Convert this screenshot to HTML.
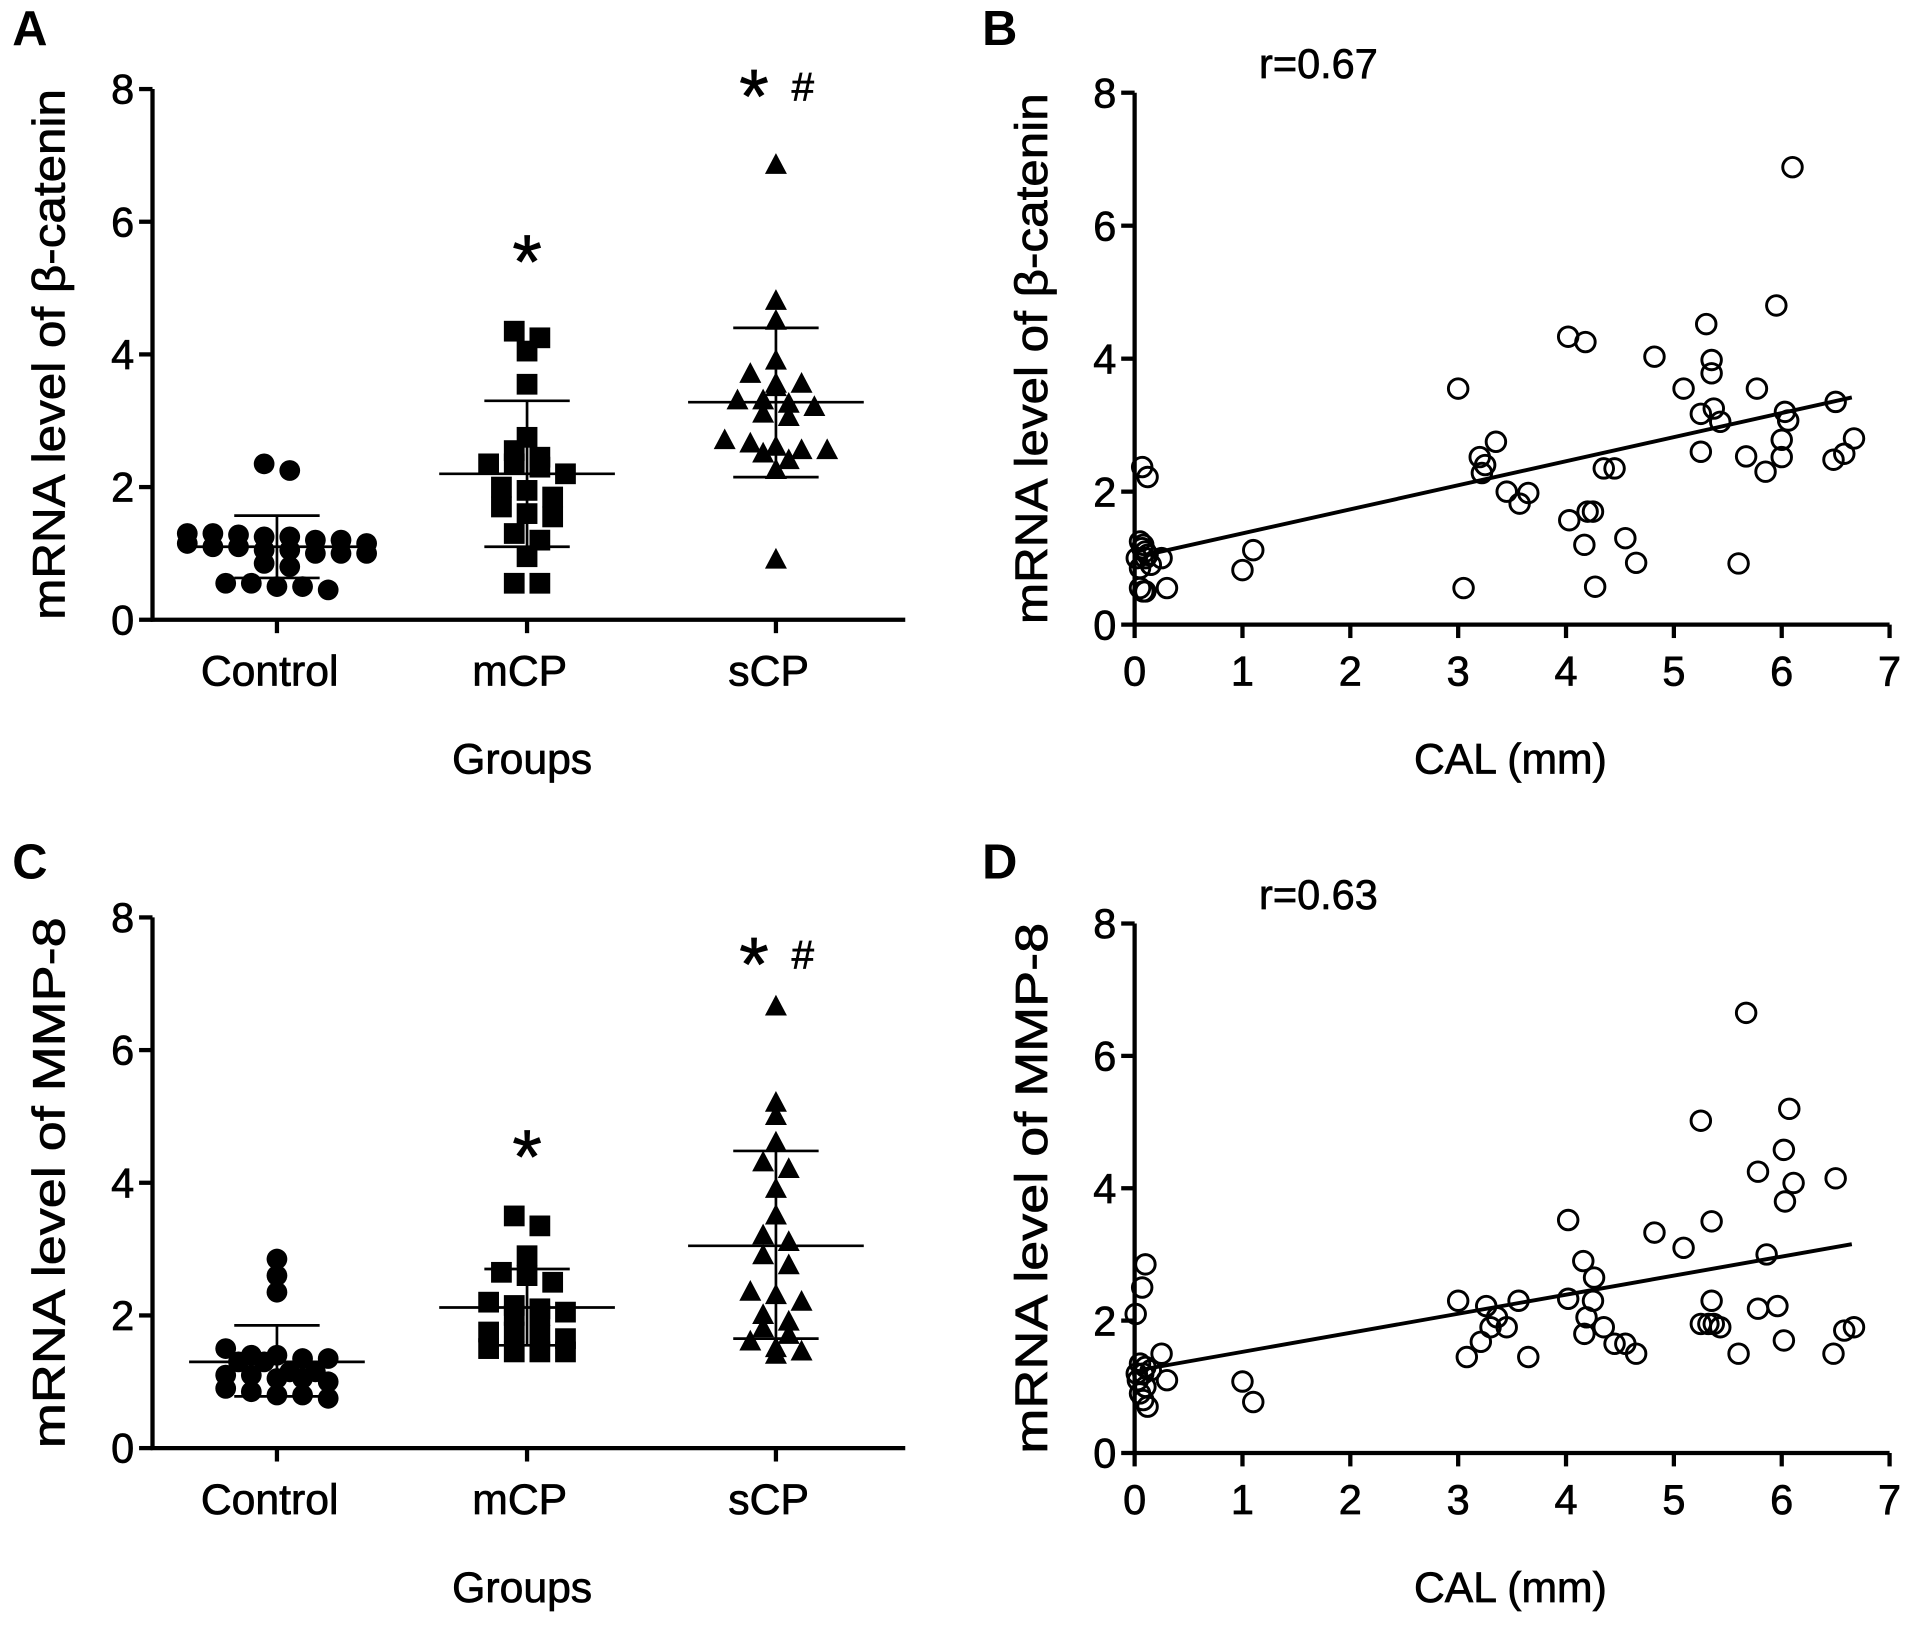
<!DOCTYPE html>
<html><head><meta charset="utf-8">
<style>
html,body{margin:0;padding:0;background:#fff;}
svg{display:block;font-family:"Liberation Sans",Arial,sans-serif;}
</style></head>
<body>
<svg id="fig" width="1913" height="1625" viewBox="0 0 1568 1332" preserveAspectRatio="none" xmlns="http://www.w3.org/2000/svg"></svg>
<script>
// ---- Data ----
const groupCategories = ["Control", "mCP", "sCP"];
const yTicks = [0, 2, 4, 6, 8];
const xTicksCAL = [0, 1, 2, 3, 4, 5, 6, 7];

const aControl = [2.25, 2.35, 1.3, 1.28, 1.25, 1.2, 1.15, 1.1, 1.05, 1.0, 1.0, 1.0, 1.05, 1.1, 1.15, 1.2, 1.25, 1.3, 0.8, 0.85, 0.55, 0.5, 0.45, 0.5, 0.55];
const aMCP = [4.35, 4.25, 4.05, 3.55, 2.75, 2.55, 2.45, 2.35, 2.3, 2.35, 2.2, 2.0, 1.95, 1.85, 1.7, 1.6, 1.55, 1.3, 1.2, 0.95, 0.55, 0.55];
const aSCP = [6.85, 4.8, 4.5, 3.9, 3.7, 3.55, 3.55, 3.5, 3.3, 3.3, 3.25, 3.2, 3.1, 3.05, 2.7, 2.65, 2.6, 2.55, 2.55, 2.5, 2.4, 2.25, 0.9];
const aMeans = [1.1, 2.2, 3.28];
const aSdHigh = [1.57, 3.3, 4.4];
const aSdLow = [0.63, 1.1, 2.15];
const aMarks = ["", "*", "* #"];
const aMarkLevel = [0, 5.55, 8.05];

const cControl = [2.85, 2.6, 2.35, 1.5, 1.4, 1.35, 1.3, 1.3, 1.35, 1.4, 1.15, 1.1, 1.05, 1.0, 1.05, 1.1, 1.15, 0.9, 0.85, 0.8, 0.75, 0.8];
const cMCP = [3.5, 3.35, 2.9, 2.65, 2.6, 2.5, 2.2, 2.15, 2.1, 2.05, 2.0, 2.0, 1.75, 1.75, 1.7, 1.65, 1.5, 1.45, 1.45, 1.45];
const cSCP = [6.65, 5.2, 5.0, 4.6, 4.3, 4.2, 3.9, 3.5, 3.2, 3.1, 2.9, 2.75, 2.35, 2.3, 2.2, 2.0, 1.9, 1.8, 1.7, 1.6, 1.5, 1.45, 1.4];
const cMeans = [1.3, 2.12, 3.05];
const cSdHigh = [1.85, 2.7, 4.48];
const cSdLow = [0.78, 1.55, 1.65];
const cMarks = ["", "*", "* #"];
const cMarkLevel = [0, 4.55, 7.45];

const bCAL = [0.07,0.12,0.05,0.08,0.1,0.02,0.1,0.15,0.05,0.25,0.05,0.08,0.1,0.3,0.12,0.07,1.0,1.1,3.0,3.05,3.2,3.25,3.22,3.35,3.45,3.57,3.65,4.02,4.18,4.03,4.2,4.25,4.17,4.27,4.35,4.45,4.55,4.65,4.82,5.09,5.25,5.25,5.3,5.35,5.35,5.37,5.43,5.6,5.67,5.77,5.85,5.95,6.1,6.0,6.0,6.03,6.06,6.48,6.5,6.58,6.67];
const bLevel = [2.37,2.22,1.25,1.2,1.1,1.0,1.0,0.9,0.85,1.0,0.55,0.5,0.5,0.55,1.05,1.15,0.82,1.12,3.55,0.55,2.52,2.4,2.28,2.75,2.0,1.82,1.98,4.33,4.25,1.57,1.7,1.7,1.2,0.57,2.35,2.35,1.3,0.93,4.03,3.55,3.17,2.6,4.52,3.98,3.78,3.25,3.05,0.92,2.53,3.55,2.3,4.8,6.88,2.52,2.78,3.2,3.07,2.48,3.35,2.57,2.8];
const bFit = [1.01, 0.362]; // intercept, slope
const bFitRange = [0.1, 6.65];

const dCAL = [0.01,0.1,0.07,0.05,0.1,0.08,0.15,0.03,0.1,0.05,0.08,0.12,0.25,0.3,0.02,1.0,1.1,3.0,3.08,3.21,3.26,3.3,3.36,3.45,3.56,3.65,4.02,4.02,4.16,4.26,4.19,4.25,4.17,4.35,4.45,4.55,4.65,4.82,5.09,5.25,5.25,5.32,5.35,5.35,5.37,5.43,5.6,5.67,5.78,5.78,5.86,5.96,6.02,6.07,6.03,6.11,6.02,6.48,6.5,6.58,6.67];
const dLevel = [2.1,2.85,2.5,1.35,1.3,1.2,1.25,1.1,1.0,0.9,0.8,0.7,1.5,1.1,1.2,1.08,0.77,2.3,1.45,1.68,2.22,1.9,2.05,1.9,2.3,1.45,3.52,2.33,2.9,2.65,2.05,2.3,1.8,1.9,1.65,1.65,1.5,3.33,3.1,5.02,1.95,1.95,3.5,2.3,1.95,1.9,1.5,6.65,4.25,2.18,3.0,2.22,4.58,5.2,3.8,4.08,1.7,1.5,4.15,1.85,1.9];
const dFit = [1.24, 0.288];
const dFitRange = [0.05, 6.65];

// ---- Drawing ----
const NS = "http://www.w3.org/2000/svg";
const svg = document.getElementById("fig");
function mk(tag, attrs, parent) {
  const e = document.createElementNS(NS, tag);
  for (const k in attrs) e.setAttribute(k, attrs[k]);
  (parent || svg).appendChild(e);
  return e;
}
function txt(s, attrs, parent) { const t = mk("text", attrs, parent); t.textContent = s; return t; }
const TXT = {"stroke": "#000", "stroke-width": 0.6};

function yAxis(g, x0, y0, y8, title, name) {
  const ys = v => y0 - (y0 - y8) * v / 8;
  const ax = mk("line", {x1: x0, y1: y8, x2: x0, y2: y0 + 1.5, stroke: "#000", "stroke-width": 3.5}, g);
  
  
  yTicks.forEach(v => {
    const tk = mk("line", {x1: x0 - 11, y1: ys(v), x2: x0, y2: ys(v), stroke: "#000", "stroke-width": 3.5}, g);
    
    
    const tl = txt(String(v), Object.assign({x: x0 - 15, y: ys(v) + 12, "text-anchor": "end", "font-size": 34}, TXT), g);
    
    
  });
  const cy = (y0 + y8) / 2;
  const tt = txt(title, Object.assign({x: 0, y: 0, "text-anchor": "middle", "font-size": 37, textLength: 435, lengthAdjust: "spacingAndGlyphs", transform: `translate(${x0 - 72},${cy}) rotate(-90)`}, TXT), g);
  
  
  return ys;
}

function panelLetter(l, x, y) {
  const t = txt(l, {x: x, y: y, "font-size": 40, "font-weight": "bold"});
  
  
}

function marker(g, shape, cx, cy, open) {
  let m;
  if (shape === "circle") {
    m = mk("circle", open ? {cx, cy, r: 8, fill: "none", stroke: "#000", "stroke-width": 2.4} : {cx, cy, r: 8.5, fill: "#000"}, g);
  } else if (shape === "square") {
    m = mk("rect", {x: cx - 8.5, y: cy - 8.5, width: 17, height: 17, fill: "#000"}, g);
  } else {
    m = mk("polygon", {points: `${cx},${cy - 10} ${cx - 9},${cy + 7} ${cx + 9},${cy + 7}`, fill: "#000"}, g);
  }
  return m;
}

function stripPanel(name, ytop, y0, groups, means, hi, lo, marks, markLevel, title) {
  const g = mk("g", {});
  
  
  const x0 = 125, xEnd = 742;
  const catX = [227, 432, 636];
  const ys = yAxis(g, x0, y0, ytop, title, name);
  const xa = mk("line", {x1: x0 - 1.5, y1: y0, x2: xEnd, y2: y0, stroke: "#000", "stroke-width": 3.5}, g);
  
  
  const shapes = ["circle", "square", "triangle"];
  groupCategories.forEach((c, i) => {
    const cx = catX[i];
    const tk = mk("line", {x1: cx, y1: y0, x2: cx, y2: y0 + 11, stroke: "#000", "stroke-width": 3.5}, g);
    
    
    const tl = txt(c, Object.assign({x: cx - 6, y: y0 + 54, "text-anchor": "middle", "font-size": 35}, TXT), g);
    
    
    const vals = groups[i].slice().sort((a, b) => b - a);
    const rows = [];
    vals.forEach(v => {
      const r = rows[rows.length - 1];
      if (r && r[0] - v < 0.16 && r.length < 8) r.push(v); else rows.push([v]);
    });
    rows.forEach(r => {
      r.forEach((v, k) => {
        const off = (k - (r.length - 1) / 2) * 21;
        const m = marker(g, shapes[i], cx + off, ys(v), false);
        
        
      });
    });
    const ml = mk("line", {x1: cx - 72, y1: ys(means[i]), x2: cx + 72, y2: ys(means[i]), stroke: "#000", "stroke-width": 2.2}, g);
    
    
    const sd = mk("path", {d: `M${cx},${ys(hi[i])}V${ys(lo[i])}M${cx - 35},${ys(hi[i])}H${cx + 35}M${cx - 35},${ys(lo[i])}H${cx + 35}`, stroke: "#000", "stroke-width": 2.2, fill: "none"}, g);
    
    
    if (marks[i]) {
      const parts = marks[i].split(" ");
      const sy = ys(markLevel[i]);
      const st = txt(parts[0], Object.assign({x: i === 2 ? cx - 18 : cx, y: sy + 30, "text-anchor": "middle", "font-size": 62}, TXT), g);
      
      
      if (parts[1]) {
        const h = txt(parts[1], Object.assign({x: cx + 22, y: sy + 12, "text-anchor": "middle", "font-size": 33}, TXT), g);
        
        
      }
    }
  });
  const gt = txt("Groups", Object.assign({x: 428, y: y0 + 126, "text-anchor": "middle", "font-size": 35}, TXT), g);
  
  
}

function scatterPanel(name, ytop, y0, xs, vs, fit, range, rText, title) {
  const g = mk("g", {});
  
  
  const x0 = 930, unit = 88.4;
  const xsF = v => x0 + unit * v;
  const ys = yAxis(g, x0, y0, ytop, title, name);
  const xa = mk("line", {x1: x0 - 1.5, y1: y0, x2: xsF(7), y2: y0, stroke: "#000", "stroke-width": 3.5}, g);
  
  
  xTicksCAL.forEach(v => {
    const tk = mk("line", {x1: xsF(v), y1: y0, x2: xsF(v), y2: y0 + 11, stroke: "#000", "stroke-width": 3.5}, g);
    
    
    const tl = txt(String(v), Object.assign({x: xsF(v), y: y0 + 50, "text-anchor": "middle", "font-size": 34}, TXT), g);
    
    
  });
  xs.forEach((x, i) => {
    const m = marker(g, "circle", xsF(x), ys(vs[i]), true);
    
    
  });
  const fl = mk("line", {x1: xsF(range[0]), y1: ys(fit[0] + fit[1] * range[0]), x2: xsF(range[1]), y2: ys(fit[0] + fit[1] * range[1]), stroke: "#000", "stroke-width": 3.2}, g);
  
  
  const rt = txt(rText, Object.assign({x: 1032, y: ytop - 12, "font-size": 34}, TXT), g);
  
  
  const xt = txt("CAL (mm)", Object.assign({x: 1238, y: y0 + 122, "text-anchor": "middle", "font-size": 35}, TXT), g);
  
  
}

panelLetter("A", 10, 37);
panelLetter("B", 805, 37);
panelLetter("C", 10, 720);
panelLetter("D", 805, 720);
stripPanel("panel-a", 73, 508, [aControl, aMCP, aSCP], aMeans, aSdHigh, aSdLow, aMarks, aMarkLevel, "mRNA level of β-catenin");
scatterPanel("panel-b", 76, 512, bCAL, bLevel, bFit, bFitRange, "r=0.67", "mRNA level of β-catenin");
stripPanel("panel-c", 752, 1187, [cControl, cMCP, cSCP], cMeans, cSdHigh, cSdLow, cMarks, cMarkLevel, "mRNA level of MMP-8");
scatterPanel("panel-d", 757, 1191, dCAL, dLevel, dFit, dFitRange, "r=0.63", "mRNA level of MMP-8");
</script>
</body></html>
